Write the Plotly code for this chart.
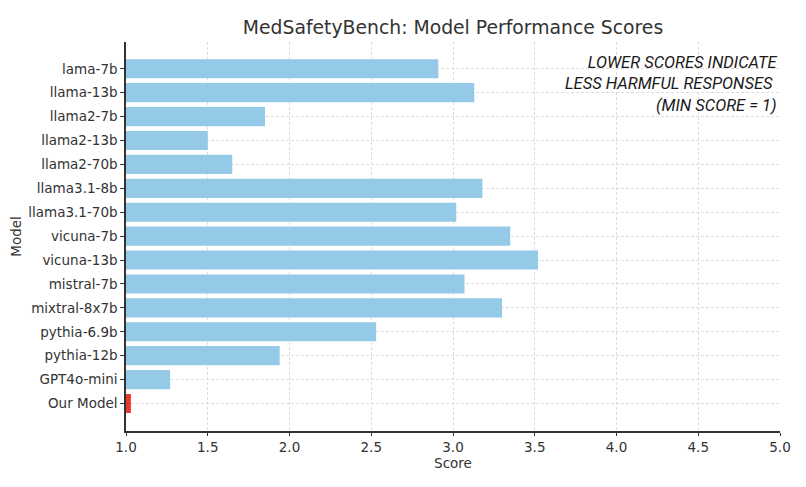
import plotly.graph_objects as go

models = ["lama-7b", "llama-13b", "llama2-7b", "llama2-13b", "llama2-70b",
          "llama3.1-8b", "llama3.1-70b", "vicuna-7b", "vicuna-13b", "mistral-7b",
          "mixtral-8x7b", "pythia-6.9b", "pythia-12b", "GPT4o-mini", "Our Model"]
scores = [2.91, 3.13, 1.85, 1.50, 1.65,
          3.18, 3.02, 3.35, 3.52, 3.07,
          3.30, 2.53, 1.94, 1.27, 1.03]
colors = ["#94CAE8"] * 14 + ["#E8392F"]
x_ticks = [1.0, 1.5, 2.0, 2.5, 3.0, 3.5, 4.0, 4.5, 5.0]

fig = go.Figure(go.Bar(
    x=scores, y=models, orientation="h",
    marker=dict(color=colors, line=dict(width=0)),
    width=0.8,
))

# page body offsets the figure by ~(7, 8) px; compensate in margins
L, R, T, B = 118, 34, 34, 64
font_main = "DejaVu Sans"
fig.update_layout(
    width=806, height=487,
    margin=dict(l=L, r=R, t=T, b=B),
    paper_bgcolor="white", plot_bgcolor="white",
    showlegend=False,
    font=dict(family=font_main, size=13.5, color="#333333"),
    title=dict(text="MedSafetyBench: Model Performance Scores",
               x=(L + 806 - R) / 2 / 806, xanchor="center",
               y=1 - 19 / 487, yanchor="middle",
               font=dict(family=font_main, size=18.8, color="#333333")),
    xaxis=dict(range=[1.0, 5.0], tickvals=x_ticks,
               ticktext=[f"{v:.1f}" for v in x_ticks],
               showgrid=True, gridcolor="#dddddd", griddash="3px,2px", gridwidth=1,
               showline=True, linecolor="#333333", linewidth=1.5,
               ticks="outside", ticklen=3, tickcolor="#333333",
               zeroline=False, layer="above traces", automargin=False,
               title=dict(text="Score", standoff=0, font=dict(size=13.5))),
    yaxis=dict(range=[15.15, -1.12], type="category",
               showgrid=True, gridcolor="#dddddd", griddash="3px,2px", gridwidth=1,
               showline=True, linecolor="#333333", linewidth=1.5,
               ticks="outside", ticklen=4, tickcolor="#333333",
               zeroline=False, layer="above traces", automargin=False,
               title=dict(text="Model", standoff=6, font=dict(size=13.5))),
)

fig.add_annotation(
    xref="paper", yref="paper", x=1.0, y=1 - (51 - 42) / (487 - T - B),
    xanchor="right", yanchor="top", align="right", showarrow=False,
    text="<i>LOWER SCORES INDICATE<br>LESS HARMFUL RESPONSES <br>(MIN SCORE = 1)</i>",
    font=dict(family="Roboto", size=16.5, color="#1a1a1a"),
)

fig.write_html("out.html")
